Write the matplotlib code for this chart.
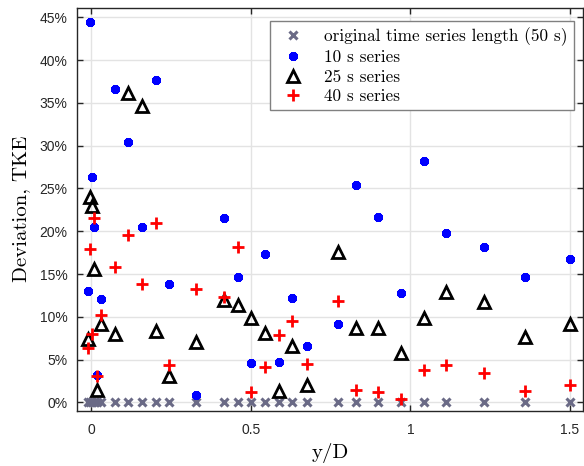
import matplotlib
matplotlib.use("Agg")
import matplotlib.pyplot as plt
from matplotlib.ticker import FuncFormatter, MultipleLocator

# ── Data (deviation of TKE in %, vs y/D) ─────────────────────────────────────
y_d = [-0.010, -0.005, 0.002, 0.010, 0.018, 0.031, 0.075, 0.117, 0.160, 0.203,
       0.245, 0.330, 0.415, 0.460, 0.500, 0.545, 0.589, 0.630, 0.675, 0.773,
       0.830, 0.900, 0.972, 1.043, 1.113, 1.229, 1.358, 1.500]

dev_orig = [0.0] * len(y_d)
dev_10s = [13.0, 44.4, 26.3, 20.5, 3.2, 12.1, 36.6, 30.4, 20.5, 37.7,
           13.8, 0.9, 21.5, 14.6, 4.6, 17.3, 4.7, 12.2, 6.55, 9.2,
           25.4, 21.7, 12.8, 28.2, 19.75, 18.2, 14.6, 16.8]
dev_25s = [7.4, 24.0, 22.9, 15.6, 1.5, 9.2, 8.0, 36.1, 34.6, 8.3,
           3.1, 7.0, 12.0, 11.4, 9.9, 8.1, 1.3, 6.6, 2.0, 17.6,
           8.7, 8.65, 5.8, 9.9, 12.9, 11.7, 7.6, 9.1]
dev_40s = [6.3, 17.9, 8.0, 21.5, 3.1, 10.2, 15.8, 19.5, 13.8, 21.0,
           4.4, 13.2, 12.3, 18.2, 1.2, 4.1, 7.9, 9.5, 4.5, 11.85,
           1.5, 1.2, 0.4, 3.75, 4.4, 3.4, 1.3, 2.0]

labels = ["original time series length (50 s)", "10 s series",
          "25 s series", "40 s series"]

# ── Style ────────────────────────────────────────────────────────────────────
SERIF = "cmr10"
TICK_FONT = "Liberation Sans"
AX_COLOR = "#262626"

fig = plt.figure(figsize=(5.84, 4.66), dpi=100)
ax = fig.add_axes([0.132, 0.1187, 0.866, 0.8645])

ax.plot(y_d, dev_orig, linestyle="none", marker="x", markersize=5.5,
        markeredgewidth=2.2, color="#6a6a86", label=labels[0], zorder=3)
ax.plot(y_d, dev_10s, linestyle="none", marker=(8, 2, 0), markersize=6.3,
        markeredgewidth=2.6, color="#0000ff", label=labels[1], zorder=4)
ax.plot(y_d, dev_25s, linestyle="none", marker="^", markersize=9,
        markeredgewidth=2.0, markerfacecolor="none", color="black",
        label=labels[2], zorder=4)
ax.plot(y_d, dev_40s, linestyle="none", marker="+", markersize=8,
        markeredgewidth=2.0, color="#ff0000", label=labels[3], zorder=5)

ax.set_xlim(-0.044, 1.54)
ax.set_ylim(-0.97, 46.1)
ax.xaxis.set_major_locator(MultipleLocator(0.5))
ax.yaxis.set_major_locator(MultipleLocator(5))
ax.xaxis.set_major_formatter(FuncFormatter(lambda v, p: f"{v:g}"))
ax.yaxis.set_major_formatter(FuncFormatter(lambda v, p: f"{v:.0f}%"))

ax.grid(True, color="#e3e3e3", linewidth=1.0)
ax.set_axisbelow(True)
for s in ax.spines.values():
    s.set_color(AX_COLOR)
    s.set_linewidth(1.0)
ax.tick_params(direction="in", length=4, width=1.0, color=AX_COLOR,
               top=True, right=True, labelcolor=AX_COLOR, labelsize=10)
ax.tick_params(axis="y", pad=7)
ax.tick_params(axis="x", pad=9)
for lbl in ax.get_xticklabels() + ax.get_yticklabels():
    lbl.set_fontfamily(TICK_FONT)

ax.set_xlabel("y/D", fontfamily=SERIF, fontsize=15, labelpad=4)
ax.set_ylabel("Deviation, TKE", fontfamily=SERIF, fontsize=15, labelpad=7)

leg = ax.legend(loc="upper right", bbox_to_anchor=(0.982, 0.967),
                prop={"family": SERIF, "size": 12.4}, fancybox=False,
                framealpha=1, edgecolor="#808080", borderpad=0.35,
                labelspacing=0.24, handletextpad=0.8, handlelength=2.0,
                borderaxespad=0)
leg.get_frame().set_linewidth(1.0)

fig.savefig("out.png", dpi=100)
